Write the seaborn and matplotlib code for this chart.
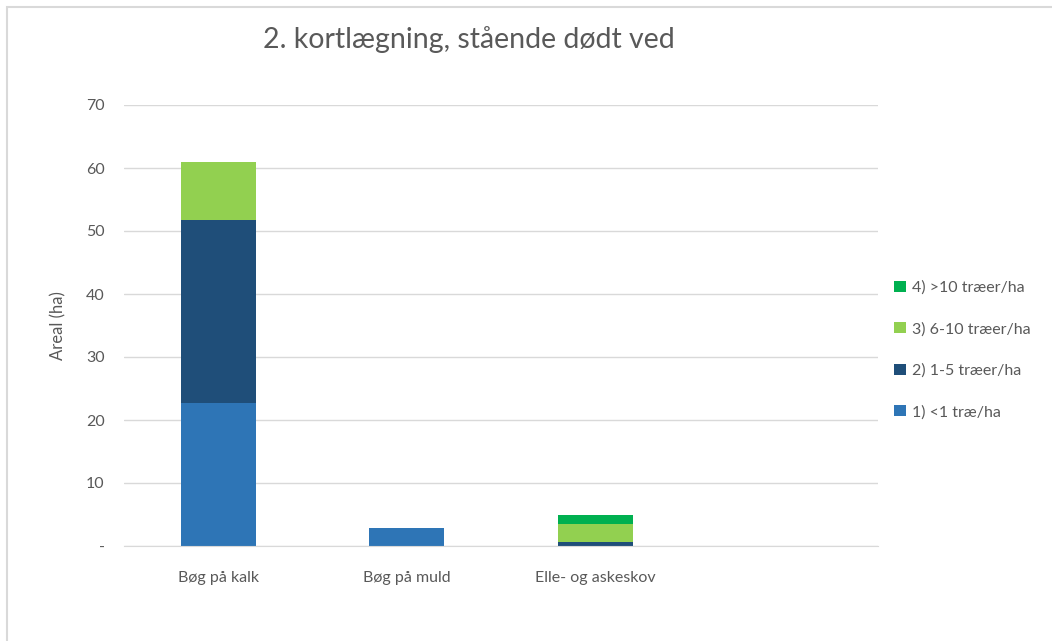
import pandas as pd
import seaborn as sns
import matplotlib.pyplot as plt
import numpy as np
from matplotlib.patches import Rectangle

categories = ['Bøg på kalk', 'Bøg på muld', 'Elle- og askeskov', ' ']
s1 = [22.7, 2.9, 0.0, 0.0]    # 1) <1 træ/ha
s2 = [29.0, 0.0, 0.7, 0.0]    # 2) 1-5 træer/ha
s3 = [9.3, 0.0, 2.75, 0.0]    # 3) 6-10 træer/ha
s4 = [0.0, 0.0, 1.5, 0.0]     # 4) >10 træer/ha
labels = ['1) <1 træ/ha', '2) 1-5 træer/ha', '3) 6-10 træer/ha', '4) >10 træer/ha']
colors = ['#2E75B6', '#1F4E79', '#92D050', '#00B050']

sns.set_style('white')
plt.rcParams['font.family'] = ['Lato', 'DejaVu Sans']
grey = '#595959'

df = pd.DataFrame({'kat': categories, 's1': s1, 's2': s2, 's3': s3, 's4': s4})
# cumulative sums so that overlapping bars look stacked
df['c1'] = df['s1']
df['c2'] = df['c1'] + df['s2']
df['c3'] = df['c2'] + df['s3']
df['c4'] = df['c3'] + df['s4']

fig = plt.figure(figsize=(10.52, 6.41), dpi=100)
ax = fig.add_axes([124 / 1052, 1 - 546 / 641, (878 - 124) / 1052, (546 - 105) / 641])

for col, lab, c in zip(['c4', 'c3', 'c2', 'c1'], labels[::-1], colors[::-1]):
    sns.barplot(data=df, x='kat', y=col, order=categories, color=c, width=0.4,
                saturation=1, errorbar=None, ax=ax, label=lab, linewidth=0)

ax.set_ylim(0, 70)
ax.set_yticks(np.arange(0, 71, 10))
ax.set_yticklabels(['-'] + [str(v) for v in range(10, 71, 10)])
ax.grid(axis='y', color='#D9D9D9', linewidth=1)
ax.set_axisbelow(True)
for s in ['top', 'right', 'left']:
    ax.spines[s].set_visible(False)
ax.spines['bottom'].set_color('#D9D9D9')
ax.tick_params(axis='both', length=0, colors=grey, labelsize=11.5)
ax.tick_params(axis='y', pad=14)
ax.tick_params(axis='x', pad=18)
ax.set_xlabel('')
ax.set_ylabel('Areal (ha)', color=grey, fontsize=12, labelpad=14)

fig.text(469 / 1052, 1 - 40 / 641, '2. kortlægning, stående dødt ved', ha='center', va='center',
         fontsize=20.5, color=grey)

h, l = ax.get_legend_handles_labels()
leg = ax.legend(h, l, loc='center left', bbox_to_anchor=(880 / 1052, 1 - 350 / 641),
                bbox_transform=fig.transFigure, frameon=False, handlelength=0.7, handleheight=0.7,
                handletextpad=0.4, labelspacing=1.7, fontsize=11.5)
for t in leg.get_texts():
    t.set_color(grey)

fig.patches.append(Rectangle((7 / 1052, -0.1), 1.2, 1 - 7 / 641 + 0.1, transform=fig.transFigure,
                             fill=False, edgecolor='#D9D9D9', linewidth=1.5))

fig.savefig('out.png', dpi=100)
